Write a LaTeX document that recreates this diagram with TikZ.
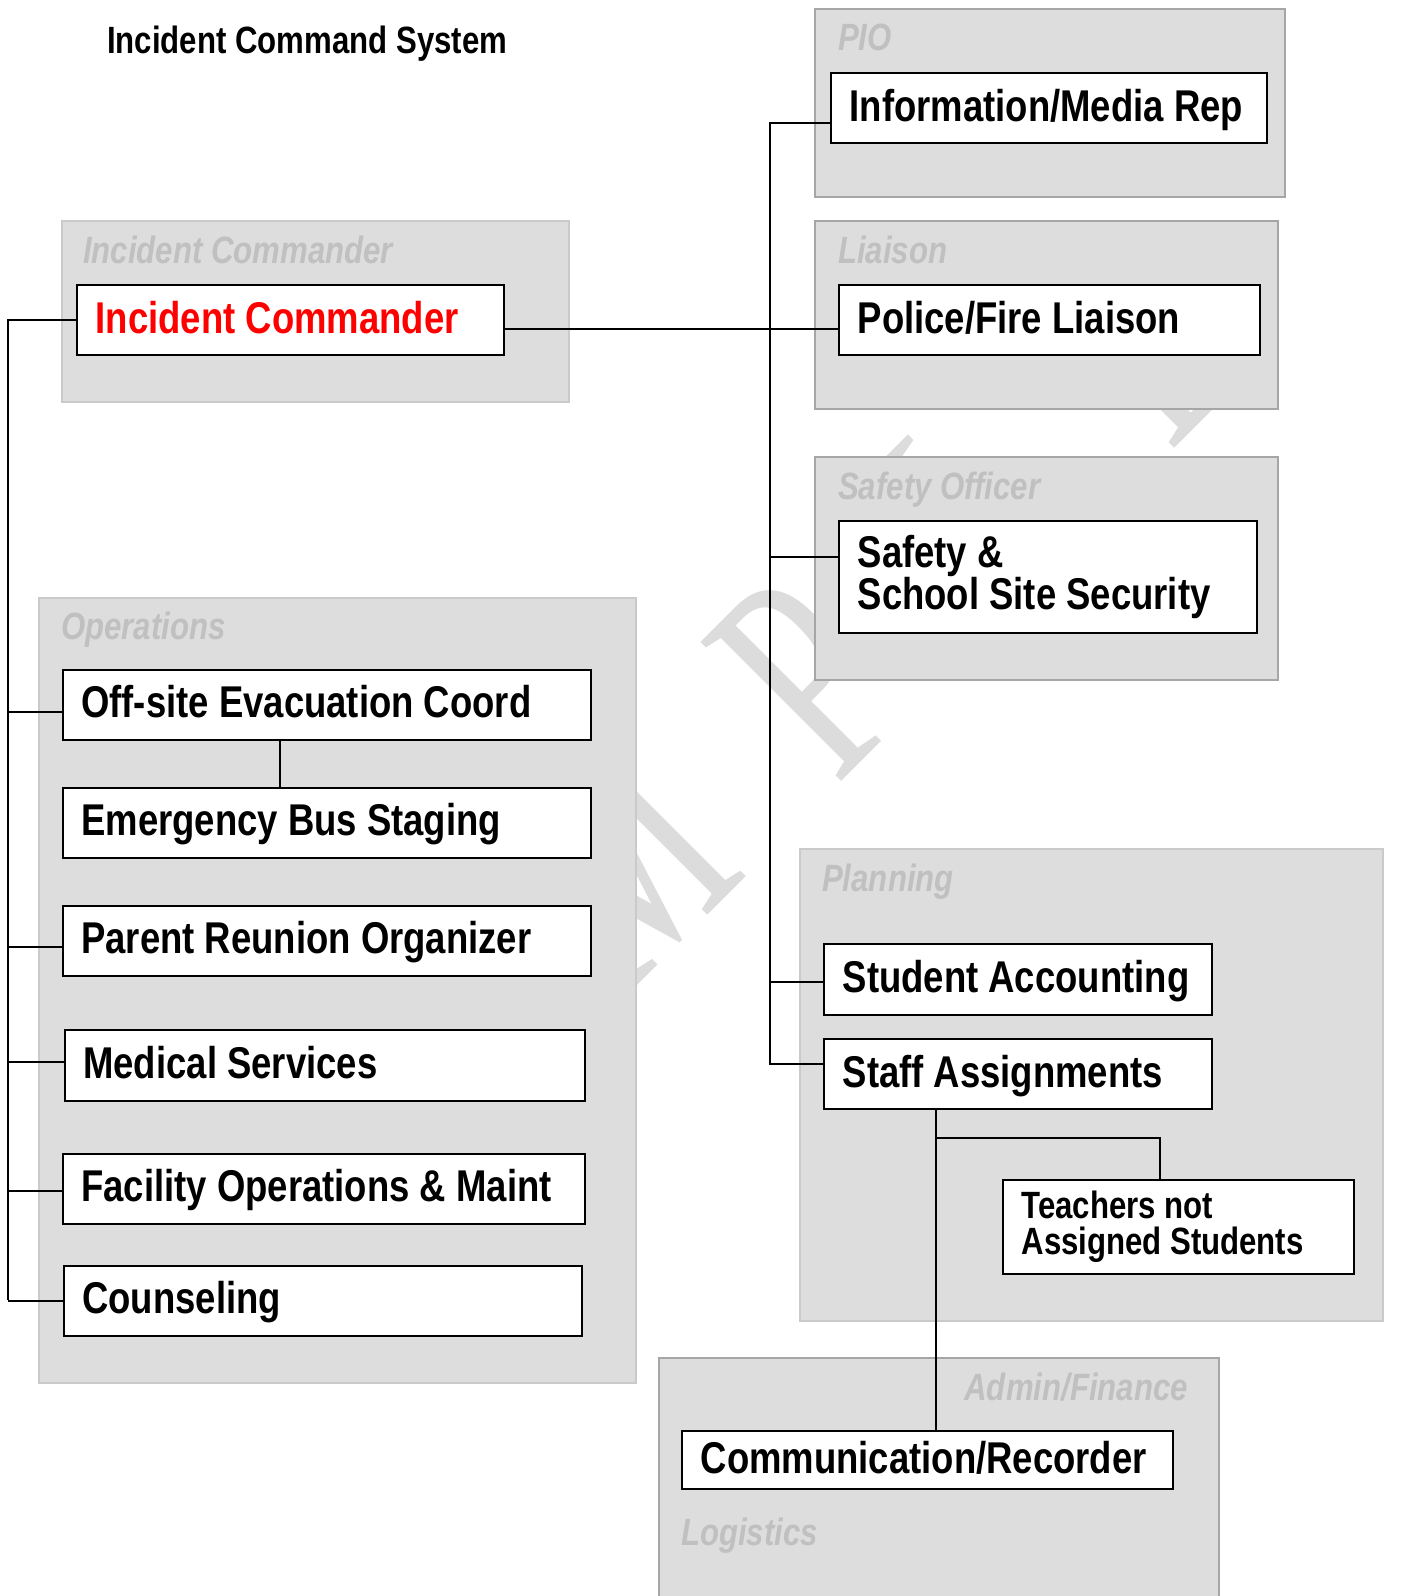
\documentclass[tikz,border=0pt]{standalone}
\usepackage{fontspec}
\newfontfamily\narrowsans{Liberation Sans}[FakeStretch=0.82]
\newfontfamily\wmserif{Liberation Serif}[FakeStretch=0.68]
\definecolor{wmgray}{HTML}{DCDCDC}
\definecolor{grpfill}{HTML}{DDDDDD}
\definecolor{grpline}{HTML}{A6A6A6}
\definecolor{grplinelt}{HTML}{CACACA}
\definecolor{lblgray}{HTML}{C0C0C0}
\definecolor{icred}{HTML}{FF0000}
\begin{document}
\begin{tikzpicture}[x=1pt,y=-1pt,
  wm/.style={anchor=base west, inner sep=0pt, rotate=45, text=wmgray,
    font=\wmserif\fontsize{302}{302}\selectfont},
  grp/.style={draw=grpline, fill=grpfill, line width=1.6pt},
  grplt/.style={draw=grplinelt, fill=grpfill, line width=1.6pt},
  grplabel/.style={anchor=base west, inner sep=0pt, text=lblgray,
    font=\narrowsans\bfseries\itshape\fontsize{38}{40}\selectfont},
  boxbase/.style={draw, fill=white, line width=2.4pt, anchor=north west,
    inner xsep=18.5pt, inner ysep=0pt, align=left},
  box/.style={boxbase, text height=32pt, text depth=6pt,
    font=\narrowsans\bfseries\fontsize{44.5}{42}\selectfont},
  opsbox/.style={box, line width=1.6pt},
  conn/.style={draw=black, line width=2pt}
]
\useasboundingbox (0,0) rectangle (1409,1596);
\fill[white] (0,0) rectangle (1409,1596);
\begin{scope}
\clip (0,0) rectangle (1409,1596);

% watermark
\node[wm] (wmS) at (269,1354) {S};
\node[wm] (wmA) at (433,1190) {A};
\node[wm] (wmM) at (621,1002) {M};
\node[wm] (wmP) at (836,787) {P};
\node[wm] (wmL) at (1003,620) {L};
\node[wm] (wmE) at (1170,453) {E};

% title
\node[anchor=base west, inner sep=0pt,
  font=\narrowsans\bfseries\fontsize{38}{40}\selectfont] (title) at (107,53) {Incident Command System};

% groups
\draw[grp]   (815,9)    rectangle (1285,197);
\draw[grplt] (62,221)   rectangle (569,402);
\draw[grp]   (815,221)  rectangle (1278,409);
\draw[grp]   (815,457)  rectangle (1278,680);
\draw[grplt] (39,598)   rectangle (636,1383);
\draw[grplt] (800,849)  rectangle (1383,1321);
\fill[grpfill] (659,1358) rectangle (1219,1596);
\draw[draw=grpline, line width=1.6pt] (659,1596) -- (659,1358) -- (1219,1358) -- (1219,1596);

% group labels
\node[grplabel] (lpio) at (838,50) {PIO};
\node[grplabel] (lic) at (83,263) {Incident Commander};
\node[grplabel] (lliaison) at (838,263) {Liaison};
\node[grplabel] (lsafety) at (838,499) {Safety Officer};
\node[grplabel] (lops) at (61,639) {Operations};
\node[grplabel] (lplan) at (822,891) {Planning};
\node[grplabel, anchor=base east] (ladmin) at (1188,1400) {Admin/Finance};
\node[grplabel] (llog) at (681,1545) {Logistics};

% boxes
\node[box, minimum height=70pt, text=icred] (ic) at (76,284) {\makebox[390pt][l]{Incident Commander}};
\node[box, minimum height=70pt] (info) at (830,72) {\makebox[399pt][l]{Information/Media Rep}};
\node[box, minimum height=70pt] (police) at (838,284) {\makebox[384pt][l]{Police/Fire Liaison}};
\node[boxbase, minimum height=112pt,
  font=\narrowsans\bfseries\fontsize{44.5}{42}\selectfont] (safety) at (838,520)
  {\makebox[381pt][l]{Safety \&}\\\makebox[381pt][l]{School Site Security}};

\node[opsbox, minimum height=70pt] (off) at (62,669) {\makebox[491pt][l]{Off-site Evacuation Coord}};
\node[opsbox, minimum height=70pt] (bus) at (62,787) {\makebox[491pt][l]{Emergency Bus Staging}};
\node[opsbox, minimum height=70pt] (parent) at (62,905) {\makebox[491pt][l]{Parent Reunion Organizer}};
\node[opsbox, minimum height=71pt] (medical) at (64,1029) {\makebox[483pt][l]{Medical Services}};
\node[opsbox, minimum height=70pt] (facility) at (62,1153) {\makebox[485pt][l]{Facility Operations \& Maint}};
\node[opsbox, minimum height=70pt] (counsel) at (63,1265) {\makebox[481pt][l]{Counseling}};

\node[box, minimum height=71pt] (student) at (823,943) {\makebox[351pt][l]{Student Accounting}};
\node[box, minimum height=70pt] (staff) at (823,1038) {\makebox[351pt][l]{Staff Assignments}};
\node[boxbase, line width=2pt, minimum height=94pt,
  font=\narrowsans\bfseries\fontsize{38}{36}\selectfont] (teach) at (1002,1179)
  {\makebox[314pt][l]{Teachers not}\\\makebox[314pt][l]{Assigned Students}};
\node[box, minimum height=58pt] (comm) at (681,1430) {\makebox[454pt][l]{Communication/Recorder}};

% connectors: left trunk
\coordinate (trunkL) at (8,1300);
\draw[conn] (ic.west) -| (trunkL);
\draw[conn] ([yshift=-7pt]off.west) -- ([yshift=-7pt]off.west -| trunkL);
\draw[conn] ([yshift=-6pt]parent.west) -- ([yshift=-6pt]parent.west -| trunkL);
\draw[conn] ([yshift=3pt]medical.west) -- ([yshift=3pt]medical.west -| trunkL);
\draw[conn] ([yshift=-2pt]facility.west) -- ([yshift=-2pt]facility.west -| trunkL);
\draw[conn] (counsel.west) -- (counsel.west -| trunkL);
\draw[conn] ([xshift=-47pt]off.south) -- ([xshift=-47pt]bus.north);

% IC to liaison
\draw[conn] ([yshift=-9pt]ic.east) -- ([yshift=-9pt]police.west);

% right trunk
\coordinate (trunkR) at (770,600);
\draw[conn] ([yshift=-15pt]info.west) -| ([yshift=10pt]staff.west -| trunkR) -- ([yshift=10pt]staff.west);
\draw[conn] ([yshift=20pt]safety.west) -- ([yshift=20pt]safety.west -| trunkR);
\draw[conn] ([yshift=-2pt]student.west) -- ([yshift=-2pt]student.west -| trunkR);

% staff assignments down
\draw[conn] ([xshift=-82pt]staff.south) -- ([xshift=-82pt]staff.south |- comm.north);
\coordinate (tj) at ([xshift=-82pt,yshift=-28pt]staff.south);
\draw[conn] (tj) -| ([xshift=-18.5pt]teach.north);
\end{scope}
\end{tikzpicture}
\end{document}
